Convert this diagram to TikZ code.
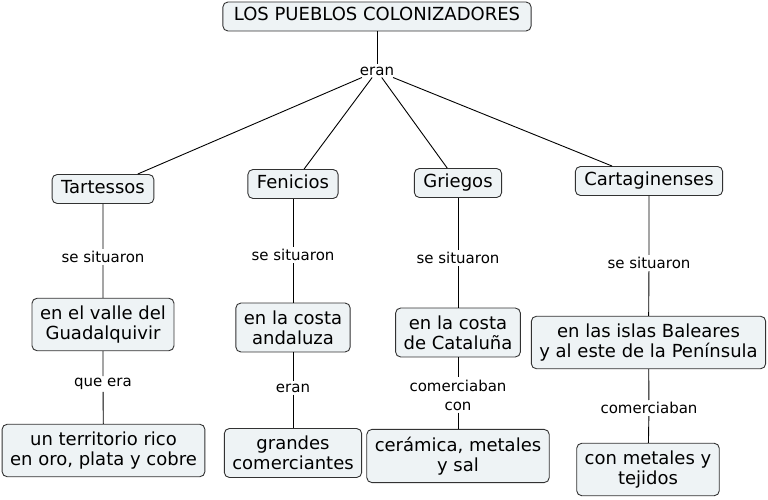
\documentclass[tikz,border=0pt]{standalone}
\usepackage{fontspec}
\setmainfont{DejaVu Sans}
\definecolor{cfill}{RGB}{238,243,245}
\definecolor{cborder}{RGB}{50,50,50}
\begin{document}
\begin{tikzpicture}[x=1pt,y=-1pt,
  concept/.style={draw=cborder,fill=cfill,rounded corners=5pt,line width=0.9pt,
    font=\fontsize{18}{20}\selectfont,inner xsep=9pt,inner ysep=6pt,
    text height=13pt,text depth=4pt},
  conceptm/.style={draw=cborder,fill=cfill,rounded corners=5pt,line width=0.9pt,
    font=\fontsize{18}{20}\selectfont,inner xsep=8pt,inner ysep=7.5pt,align=center},
  lbl/.style={font=\fontsize{15}{19}\selectfont,inner sep=2pt,align=center},
  conn/.style={line width=0.9pt,black}]
\useasboundingbox (0,0) rectangle (768,500);
% top
\node[concept,inner xsep=11pt] (title) at (377,16.5) {LOS PUEBLOS COLONIZADORES};
\node[lbl] (eran) at (377,71) {eran};
% level 1
\node[concept] (tar) at (103,189) {Tartessos};
\node[concept] (fen) at (293,184) {Fenicios};
\node[concept] (gri) at (458,183) {Griegos};
\node[concept] (car) at (649,181) {Cartaginenses};
% labels level 1
\node[lbl] (ls1) at (103,257) {se situaron};
\node[lbl] (ls2) at (293,255) {se situaron};
\node[lbl] (ls3) at (458,258) {se situaron};
\node[lbl] (ls4) at (649,263) {se situaron};
% level 2
\node[conceptm] (valle) at (103,324.5) {en el valle del\\Guadalquivir};
\node[conceptm] (anda) at (293,327.5) {en la costa\\andaluza};
\node[conceptm] (cata) at (458,332.5) {en la costa\\de Cataluña};
\node[conceptm] (bal) at (648.5,342.5) {en las islas Baleares\\y al este de la Península};
% labels level 2
\node[lbl] (lq1) at (103,384) {que era};
\node[lbl] (lq2) at (293,388) {eran};
\node[lbl] (lq3) at (458,395) {comerciaban\\con};
\node[lbl] (lq4) at (649,408) {comerciaban};
% level 3
\node[conceptm] (terr) at (103.5,450.5) {un territorio rico\\en oro, plata y cobre};
\node[conceptm] (gran) at (293,453) {grandes\\comerciantes};
\node[conceptm] (cera) at (458,456) {cerámica, metales\\y sal};
\node[conceptm] (teji) at (648,469.5) {con metales y\\tejidos};
% connectors
\draw[conn] (title) -- (eran);
\foreach \n in {tar,fen,gri,car} \draw[conn] (eran) -- (\n);
\draw[conn] (tar) -- (ls1) -- (valle) -- (lq1) -- (terr);
\draw[conn] (fen) -- (ls2) -- (anda) -- (lq2) -- (gran);
\draw[conn] (gri) -- (ls3) -- (cata) -- (lq3) -- (cera);
\draw[conn] (car) -- (ls4) -- (bal) -- (lq4) -- (teji);
\end{tikzpicture}
\end{document}
